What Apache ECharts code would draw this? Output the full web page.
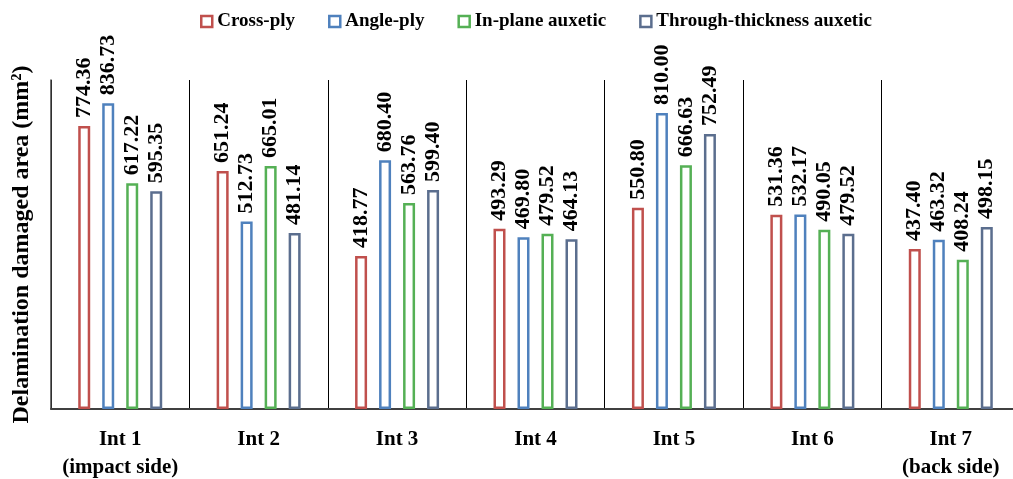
<!DOCTYPE html>
<html>
<head>
<meta charset="utf-8">
<script src="https://cdn.jsdelivr.net/npm/echarts@6/dist/echarts.min.js"></script>
<style>
  html, body { margin: 0; padding: 0; background: #fff; }
  #chart { width: 1013px; height: 479px; }
</style>
</head>
<body>
<div id="chart"></div>
<script>
// Interfaces through the laminate thickness
const categories = ['Int 1\n(impact side)', 'Int 2', 'Int 3', 'Int 4', 'Int 5', 'Int 6', 'Int 7\n(back side)'];

// Delamination damaged area per interface (mm²)
const crossPly = [774.36, 651.24, 418.77, 493.29, 550.80, 531.36, 437.40];
const anglePly = [836.73, 512.73, 680.40, 469.80, 810.00, 532.17, 463.32];
const inPlaneAuxetic = [617.22, 665.01, 563.76, 479.52, 666.63, 490.05, 408.24];
const throughThicknessAuxetic = [595.35, 481.14, 599.40, 464.13, 752.49, 479.52, 498.15];

const seriesNames = ['Cross-ply', 'Angle-ply', 'In-plane auxetic', 'Through-thickness auxetic'];
const seriesData = [crossPly, anglePly, inPlaneAuxetic, throughThicknessAuxetic];
const seriesColors = ['#C0504D', '#4F81BD', '#55B055', '#5B6E8E'];

const FONT = '"Liberation Serif", "Times New Roman", serif';

const chart = echarts.init(document.getElementById('chart'), null, { renderer: 'canvas' });

chart.setOption({
  animation: false,
  backgroundColor: '#ffffff',
  legend: {
    top: 7,
    left: 195,
    itemWidth: 11,
    itemHeight: 11,
    itemGap: 33,
    icon: 'rect',
    textStyle: { fontFamily: FONT, fontWeight: 'bold', fontSize: 19, color: '#000' },
    data: seriesNames.map((n, i) => ({
      name: n,
      itemStyle: { color: '#fff', borderColor: seriesColors[i], borderWidth: 2.5 }
    }))
  },
  // the last category runs slightly past the right edge of the page
  grid: { left: 51, width: 969, top: 80, bottom: 70, containLabel: false, outerBoundsMode: 'none' },
  xAxis: {
    type: 'category',
    data: categories,
    axisLine: { show: true, lineStyle: { color: '#404040', width: 2 } },
    axisTick: { show: false },
    splitLine: { show: true, interval: 0, lineStyle: { color: '#000', width: 1 } },
    axisLabel: {
      interval: 0,
      margin: 17,
      fontFamily: FONT,
      fontWeight: 'bold',
      fontSize: 21,
      lineHeight: 28,
      color: '#000'
    }
  },
  yAxis: {
    type: 'value',
    min: 0,
    max: 900,
    name: 'Delamination damaged area (mm²)',
    nameLocation: 'middle',
    nameGap: 17,
    nameTextStyle: { fontFamily: FONT, fontWeight: 'bold', fontSize: 24, color: '#000' },
    axisLine: { show: true, lineStyle: { color: '#404040', width: 1.5 } },
    axisTick: { show: false },
    axisLabel: { show: false },
    splitLine: { show: false }
  },
  series: seriesNames.map((name, i) => ({
    name: name,
    type: 'bar',
    data: seriesData[i],
    barWidth: 12,
    barGap: '100%',
    itemStyle: { color: '#ffffff', borderColor: seriesColors[i], borderWidth: 2.5 },
    label: {
      show: true,
      position: 'top',
      rotate: 90,
      align: 'left',
      verticalAlign: 'middle',
      distance: 8,
      formatter: p => p.value.toFixed(2),
      fontFamily: FONT,
      fontWeight: 'bold',
      fontSize: 22,
      color: '#000'
    }
  }))
});
</script>
</body>
</html>
